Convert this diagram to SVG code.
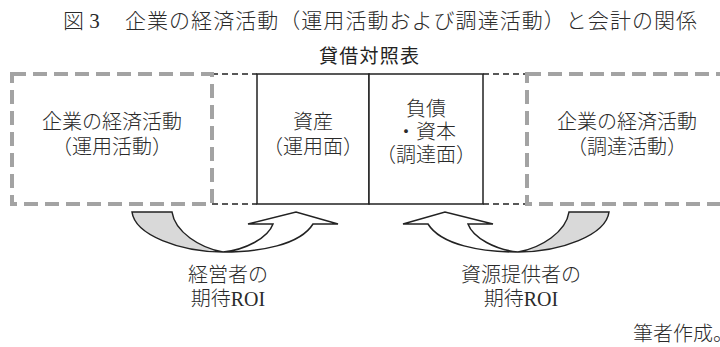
<svg xmlns="http://www.w3.org/2000/svg" width="720" height="347" viewBox="0 0 720 347">
<defs>
<style>
.t{font-family:"Liberation Serif","Noto Sans CJK JP",serif;font-size:20px;font-weight:300;fill:#2a2a2a;}
.big{font-size:21px;}
.m{text-anchor:middle;}
.g{font-family:"Noto Sans CJK JP","Noto Sans",sans-serif;font-size:19px;fill:#222;}
.gray{fill:none;stroke:#a3a3a3;stroke-width:4;stroke-dasharray:14 7;}
.bd{fill:none;stroke:#222;stroke-width:1.5;stroke-dasharray:6 4;}
.box{fill:#fff;stroke:#222;stroke-width:1.5;}
.tail{fill:#d9d9d9;stroke:#222;stroke-width:1.5;stroke-linejoin:miter;}
.head{fill:#fff;stroke:#222;stroke-width:1.5;stroke-linejoin:miter;}
</style>
<g id="arrowShape">
<path class="tail" d="M132,212 L172,212 C175,232 200,248 223,252 C180,252 135,235 132,212 Z"/>
<path class="head" d="M223,252 C245,250 268,238 273,224 L248,224 L296,212 L338,224 L313,224 C300,245 260,252 223,252 Z"/>
</g>
</defs>
<rect width="720" height="347" fill="#fff"/>
<g id="title">
<text class="t big" x="63" y="28">図 3</text>
<text class="t big" x="125" y="28" textLength="572" lengthAdjust="spacing">企業の経済活動（運用活動および調達活動）と会計の関係</text>
</g>
<g id="bs-title"><text class="g m" x="369" y="63" textLength="100" lengthAdjust="spacing">貸借対照表</text></g>
<g id="connectors">
<line class="bd" x1="212" y1="74" x2="257" y2="74"/>
<line class="bd" x1="212" y1="204" x2="257" y2="204"/>
<line class="bd" x1="483" y1="74" x2="527" y2="74"/>
<line class="bd" x1="483" y1="204" x2="527" y2="204"/>
<use href="#arrowShape"/>
<use href="#arrowShape" transform="translate(741,0) scale(-1,1)"/>
</g>
<g id="left-activity">
<rect class="gray" x="12" y="74" width="200" height="130"/>
<text class="t m" x="112" y="129">企業の経済活動</text>
<text class="t m" x="112" y="154">（運用活動）</text>
</g>
<g id="assets">
<rect class="box" x="257" y="74" width="112" height="130"/>
<text class="t m" x="313" y="129">資産</text>
<text class="t m" x="313" y="154">（運用面）</text>
</g>
<g id="liabilities">
<rect class="box" x="369" y="74" width="114" height="130"/>
<text class="t m" x="426" y="116">負債</text>
<text class="t m" x="426" y="139">・資本</text>
<text class="t m" x="426" y="162">（調達面）</text>
</g>
<g id="right-activity">
<rect class="gray" x="527" y="74" width="200" height="130"/>
<text class="t m" x="627" y="129">企業の経済活動</text>
<text class="t m" x="627" y="154">（調達活動）</text>
</g>
<g id="label-manager">
<text class="t m" x="228" y="282">経営者の</text>
<text class="t m" x="228" y="306">期待ROI</text>
</g>
<g id="label-provider">
<text class="t m" x="521" y="282">資源提供者の</text>
<text class="t m" x="521" y="306">期待ROI</text>
</g>
<g id="source"><text class="t" x="633" y="341">筆者作成。</text></g>
</svg>
